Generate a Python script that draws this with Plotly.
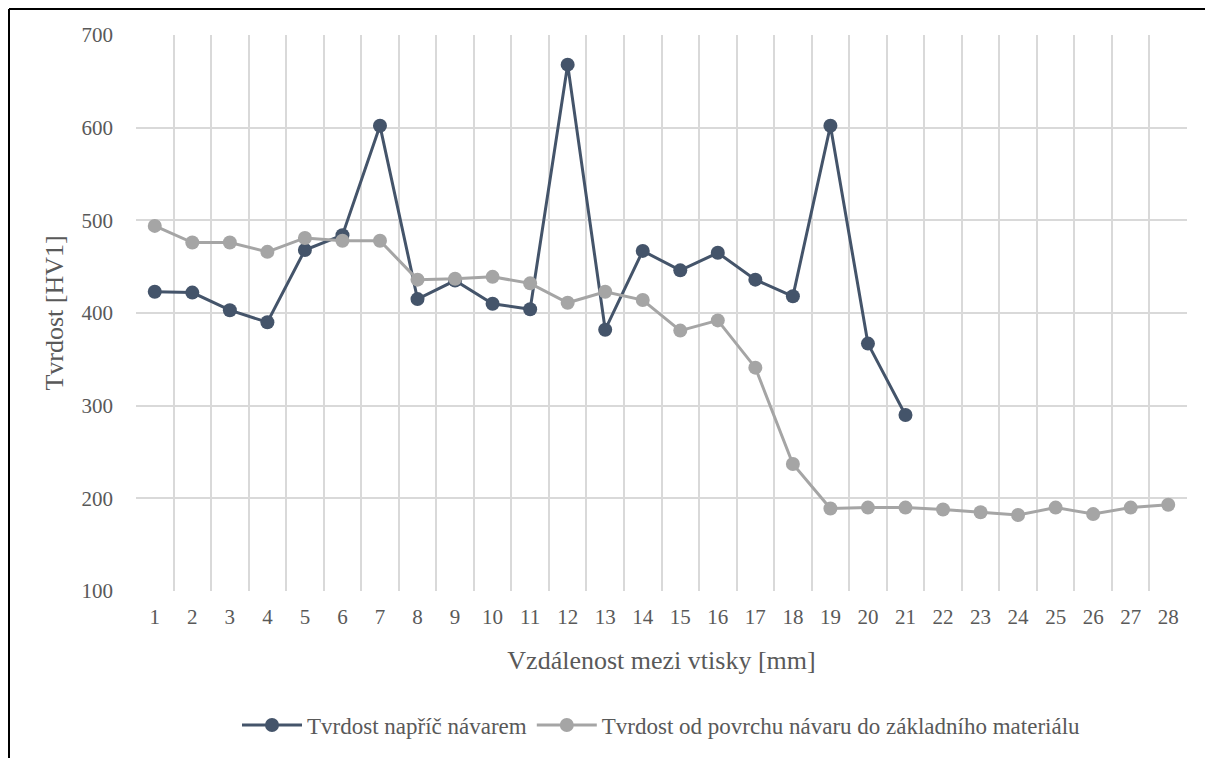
import plotly.graph_objects as go

categories = [str(i) for i in range(1, 29)]
napric = [423, 422, 403, 390, 468, 484, 602, 415, 435, 410, 404, 668, 382, 467,
          446, 465, 436, 418, 602, 367, 290]
povrch = [494, 476, 476, 466, 481, 478, 478, 436, 437, 439, 432, 411, 423, 414,
          381, 392, 341, 237, 189, 190, 190, 188, 185, 182, 190, 183, 190, 193]
series_names = ["Tvrdost napříč návarem",
                "Tvrdost od povrchu návaru do základního materiálu"]
y_ticks = [100, 200, 300, 400, 500, 600, 700]

# page is offset by the 8px body margin
OFF = 8
W, H = 1213, 758
L, T = 136 - OFF, 35 - OFF
R = W - (1187 - OFF)
B = H - (591 - OFF)
pw, ph = W - L - R, H - T - B

FONT = "Liberation Serif, Times New Roman, serif"
TXT = "#595959"

fig = go.Figure()
fig.add_trace(go.Scatter(
    x=categories[:len(napric)], y=napric, name=series_names[0], mode="lines+markers",
    line=dict(color="#44546A", width=3), marker=dict(size=14, color="#44546A")))
fig.add_trace(go.Scatter(
    x=categories[:len(povrch)], y=povrch, name=series_names[1], mode="lines+markers",
    line=dict(color="#A5A5A5", width=3), marker=dict(size=14, color="#A5A5A5")))

def px_x(p):
    return (p - OFF - L) / pw

def px_y(p):
    return (H - B - (p - OFF)) / ph

fig.update_layout(
    width=W, height=H,
    margin=dict(l=L, r=R, t=T, b=B, pad=0, autoexpand=False),
    paper_bgcolor="white", plot_bgcolor="white",
    font=dict(family=FONT, color=TXT, size=21),
    showlegend=True,
    legend=dict(orientation="h", x=0.5, xanchor="center", y=px_y(725), yanchor="middle",
                font=dict(family=FONT, size=23, color=TXT), itemwidth=60,
                tracegroupgap=0, traceorder="normal", bgcolor="rgba(0,0,0,0)"),
    xaxis=dict(type="category", categoryorder="array", categoryarray=categories,
               range=[-0.5, 27.5], tickson="boundaries", showgrid=True,
               gridcolor="#D9D9D9", gridwidth=1.5, showline=False, zeroline=False,
               ticks="", tickfont=dict(family=FONT, size=21, color=TXT),
               ticklabelstandoff=11, automargin=False,
               title=dict(text="Vzdálenost mezi vtisky [mm]",
                          font=dict(family=FONT, size=26, color=TXT), standoff=22)),
    yaxis=dict(range=[100, 700], tickvals=y_ticks, showgrid=True, gridcolor="#D9D9D9",
               gridwidth=1.5, showline=False, zeroline=False, ticks="",
               tickfont=dict(family=FONT, size=21, color=TXT), ticklabelstandoff=22,
               automargin=False,
               title=dict(text="Tvrdost [HV1]",
                          font=dict(family=FONT, size=26, color=TXT), standoff=10)),
    shapes=[
        dict(type="line", xref="paper", yref="paper", x0=px_x(OFF + 1), x1=px_x(W + 20),
             y0=px_y(OFF + 1), y1=px_y(OFF + 1), line=dict(color="black", width=2)),
        dict(type="line", xref="paper", yref="paper", x0=px_x(OFF + 1), x1=px_x(OFF + 1),
             y0=px_y(OFF + 1), y1=px_y(H + 20), line=dict(color="black", width=2)),
    ],
)

fig.write_html("out.html")
